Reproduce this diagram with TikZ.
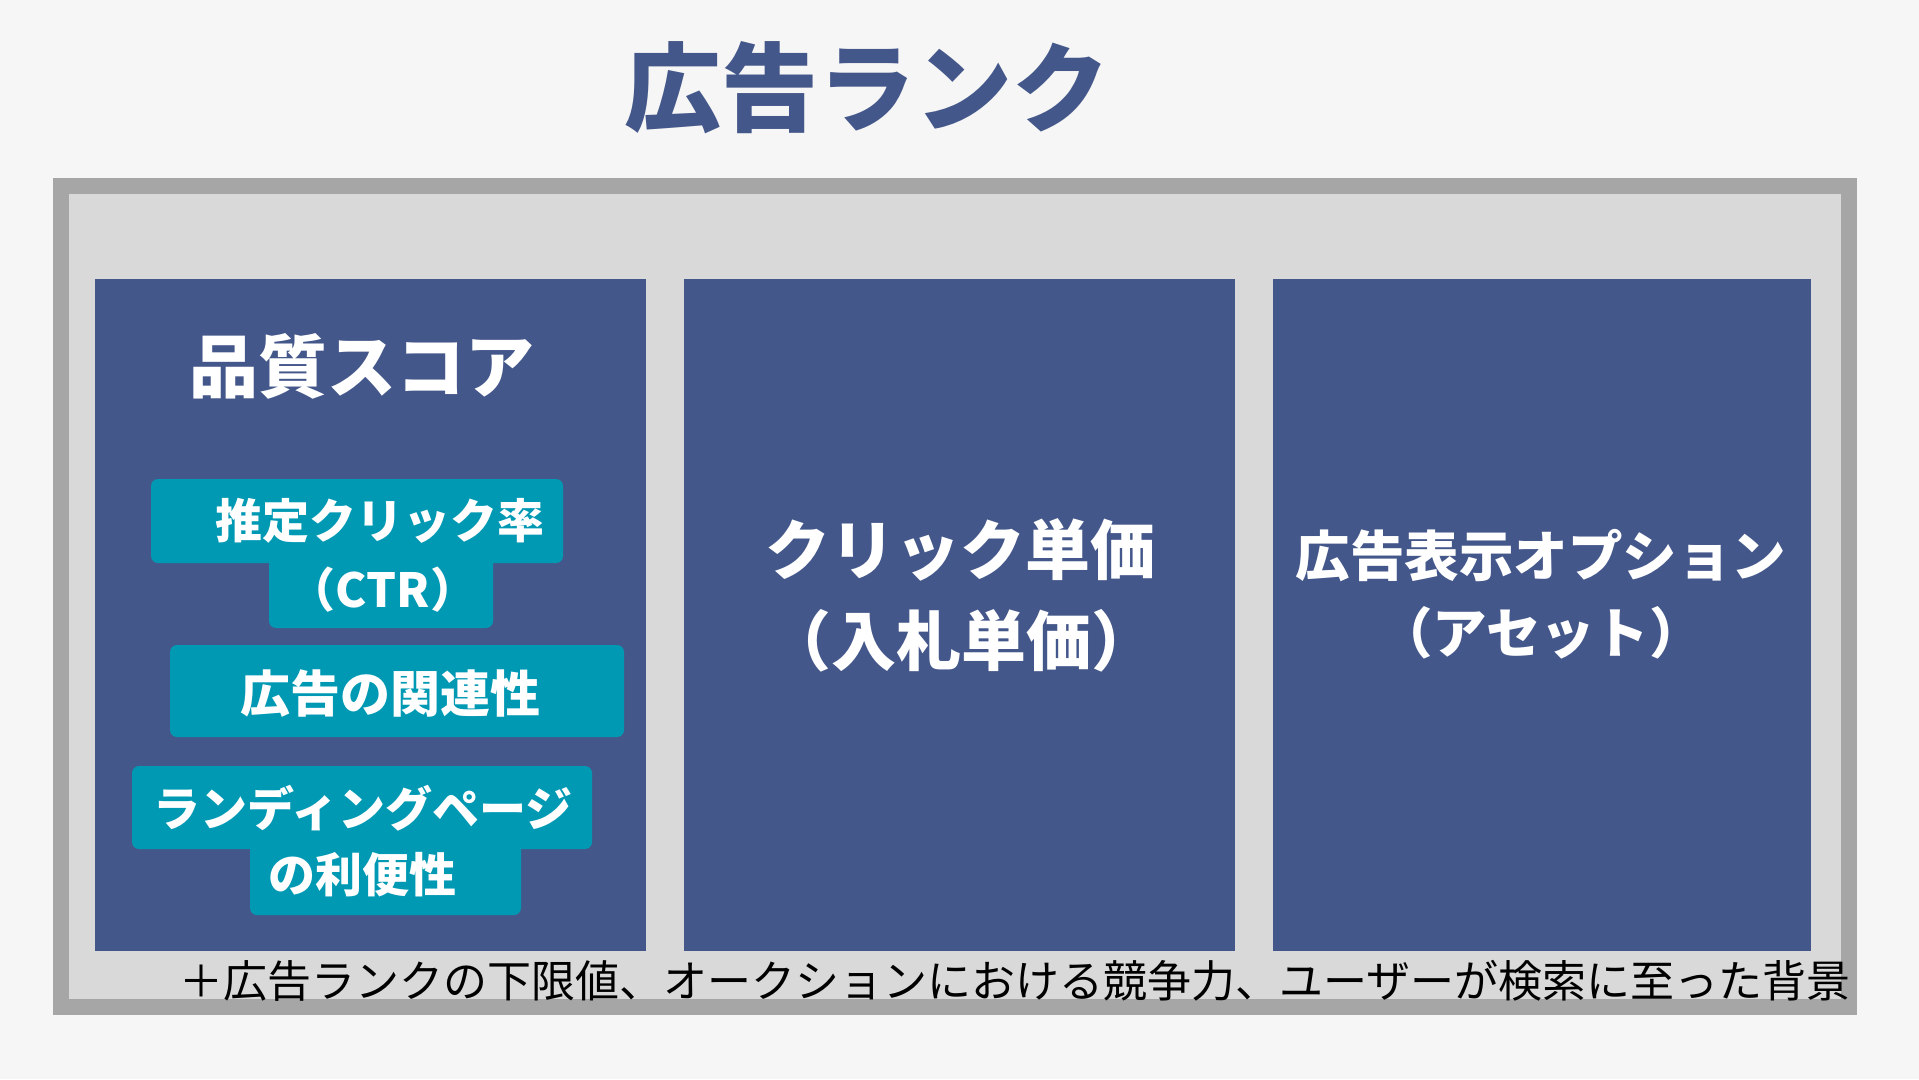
\documentclass[tikz,border=0pt]{standalone}
\usepackage{fontspec}
\setmainfont{Noto Sans CJK JP}
\definecolor{bgc}{HTML}{F6F6F6}
\definecolor{framec}{HTML}{A6A6A6}
\definecolor{innerc}{HTML}{D9D9D9}
\definecolor{navy}{HTML}{44578A}
\definecolor{tealbox}{HTML}{0099B4}
\tikzset{
  panel/.style={fill=navy},
  pill/.style={fill=tealbox, rounded corners=7pt},
  wt/.style={text=white, inner sep=0pt},
}
\newcommand{\fs}[1]{\fontsize{#1}{#1}\selectfont}
\begin{document}
\begin{tikzpicture}[x=1pt,y=-1pt]
\useasboundingbox (0,0) rectangle (1919,1079);
\fill[bgc] (0,0) rectangle (1919,1079);
% outer frame
\filldraw[fill=innerc, draw=framec, line width=15.5pt] (60.75,186) rectangle (1849,1007);
% panels
\fill[panel] (95,279) rectangle (646,951);
\fill[panel] (684,279) rectangle (1235,951);
\fill[panel] (1273,279) rectangle (1811,951);
% teal pills
\fill[pill] (151,479) rectangle (563,563);
\fill[pill] (269,556) rectangle (493,628);
\fill[pill] (170,645) rectangle (624,737);
\fill[pill] (132,766) rectangle (592,849);
\fill[pill] (250,842) rectangle (521,915);
% title
\node[inner sep=0pt, text=navy, font=\bfseries\fs{97}] (title) at (867,88) {広告ランク};
% panel 1
\node[wt, font=\bfseries\fs{69}] (qs) at (362,366) {品質スコア};
\node[wt, font=\bfseries\fs{47}] (ctr1) at (380,521) {推定クリック率};
\node[wt, font=\bfseries\fs{47}] (ctr2) at (383,590) {（CTR）};
\node[wt, font=\bfseries\fs{50}] (rel) at (390,694) {広告の関連性};
\node[wt, font=\bfseries\fs{47}] (lp1) at (363,808) {ランディングページ};
\node[wt, font=\bfseries\fs{47}] (lp2) at (362,875) {の利便性};
% panel 2
\node[wt, font=\bfseries\fs{65}] (cpc1) at (960,550) {クリック単価};
\node[wt, font=\bfseries\fs{65}] (cpc2) at (961,641) {（入札単価）};
% panel 3
\node[wt, font=\bfseries\fs{54.5}] (ext1) at (1541,556) {広告表示オプション};
\node[wt, font=\bfseries\fs{54.5}] (ext2) at (1541,633) {（アセット）};
% bottom note
\node[inner sep=0pt, text=black, font=\fs{44}] (note) at (1015,981) {＋広告ランクの下限値、オークションにおける競争力、ユーザーが検索に至った背景};
\end{tikzpicture}
\end{document}
